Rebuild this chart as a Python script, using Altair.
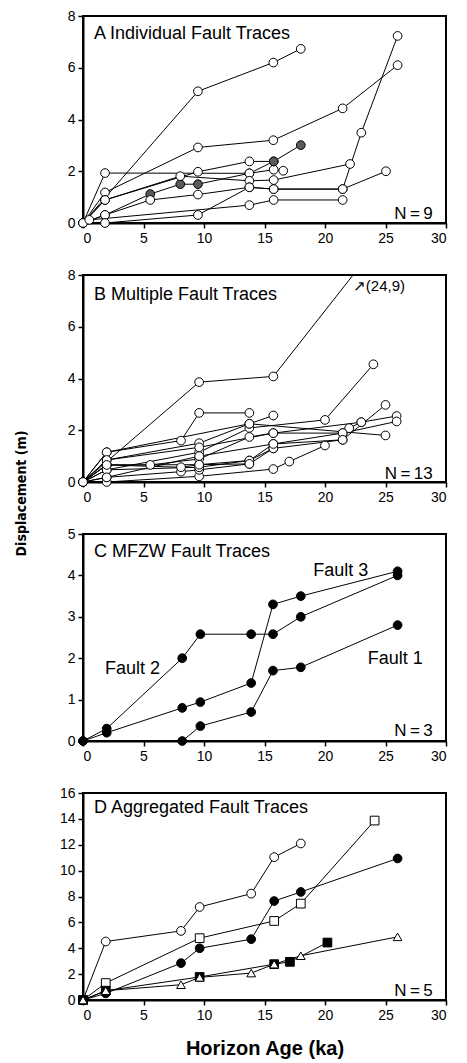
import altair as alt
import pandas as pd

# ---------------- Panel A: Individual fault traces ----------------
A_series = {
    "A1": ([0, 9.5, 15.73, 18.0], [0, 5.09, 6.2, 6.73]),
    "A2": ([0, 1.82, 9.5, 15.73, 21.46, 26.0], [0, 1.18, 2.92, 3.2, 4.43, 6.1]),
    "A3": ([0, 1.82, 13.75, 15.76, 16.55], [0, 1.93, 1.92, 2.06, 2.02]),
    "A4": ([0, 1.82, 9.5, 13.75, 15.76], [0, 0.89, 1.98, 2.38, 2.38]),
    "A5": ([0, 1.82, 5.56, 8.04, 9.5, 13.75, 15.76, 18.0], [0, 0.31, 1.12, 1.5, 1.5, 1.92, 2.38, 3.01]),
    "A6": ([0, 1.82, 8.04, 13.75, 15.76, 22.07], [0, 0.89, 1.81, 1.63, 1.66, 2.28]),
    "A7": ([0, 1.82, 5.56, 9.5, 13.75, 15.76, 21.46, 23.0, 26.0], [0, 0.31, 0.89, 1.1, 1.38, 1.31, 1.31, 3.49, 7.23]),
    "A8": ([0, 1.82, 9.5, 13.75, 15.76, 21.46, 25.04], [0, 0.0, 0.31, 1.38, 1.31, 1.31, 2.0]),
    "A9": ([0, 0.52, 13.75, 15.76, 21.46], [0, 0.12, 0.69, 0.89, 0.89]),
}
A_gray = {"A5": [2, 3, 4, 6, 7]}

# ---------------- Panel B: Multiple fault traces ----------------
B_series = {
    "B1": ([0, 9.6, 15.73, 24.0], [0, 3.86, 4.08, 9.0]),
    "B2": ([0, 1.96, 8.1, 9.6, 13.75], [0, 1.15, 1.6, 2.67, 2.67]),
    "B3": ([0, 1.96, 9.6, 13.75, 20.0, 24.0], [0, 0.47, 1.15, 2.09, 2.4, 4.55]),
    "B4": ([0, 1.96, 9.6, 13.75, 15.73], [0, 0.85, 1.5, 2.25, 2.57]),
    "B5": ([0, 1.96, 13.75, 25.0], [0, 1.15, 2.25, 1.8]),
    "B6": ([0, 1.96, 5.56, 9.6, 13.75, 15.73, 21.46, 22.0, 23.0, 25.92], [0, 0.66, 0.66, 0.89, 1.74, 1.89, 1.89, 2.08, 2.31, 2.55]),
    "B7": ([0, 1.96, 9.6, 15.73, 17.05, 20.0], [0, 0.0, 0.22, 0.5, 0.79, 1.41]),
    "B8": ([0, 1.96, 8.1, 9.6, 13.75, 15.73, 21.46, 25.0], [0, 0.18, 0.4, 0.47, 0.7, 1.3, 1.63, 2.98]),
    "B9": ([0, 1.96, 8.1, 9.6, 13.75, 15.73, 21.46, 25.92], [0, 0.66, 0.57, 0.67, 0.83, 1.47, 1.89, 2.34]),
    "B10": ([0, 1.96, 9.6, 15.73, 23.0], [0, 0.85, 1.34, 1.89, 2.31]),
    "B11": ([0, 1.96, 9.6, 13.75, 15.73], [0, 0.47, 0.57, 0.83, 1.3]),
    "B12": ([0, 1.96, 9.6, 15.73, 21.46], [0, 0.18, 1.0, 1.47, 1.63]),
    "B13": ([0, 1.96, 9.6, 13.75], [0, 0.66, 0.67, 0.7]),
}

# ---------------- Panel C: MFZW fault traces ----------------
C_series = {
    "Fault 2": ([0, 1.96, 8.2, 9.7, 13.9, 15.7, 18.0, 26.0], [0, 0.3, 2.0, 2.58, 2.58, 2.58, 3.0, 4.0]),
    "Fault 3": ([0, 1.96, 8.2, 9.7, 13.9, 15.7, 18.0, 26.0], [0, 0.2, 0.8, 0.94, 1.4, 3.3, 3.5, 4.1]),
    "Fault 1": ([8.2, 9.7, 13.9, 15.7, 18.0, 26.0], [0, 0.36, 0.7, 1.7, 1.78, 2.8]),
}

# ---------------- Panel D: Aggregated fault traces ----------------
D_series = {
    "open circle": ([0, 1.88, 8.1, 9.64, 13.9, 15.8, 18.0], [0, 4.52, 5.34, 7.19, 8.22, 11.04, 12.1]),
    "open square": ([0, 1.88, 9.64, 15.8, 18.0, 24.1], [0, 1.31, 4.78, 6.11, 7.45, 13.87]),
    "filled circle": ([0, 1.88, 8.1, 9.64, 13.9, 15.8, 18.0, 26.0], [0, 0.51, 2.85, 4.0, 4.7, 7.65, 8.35, 10.94]),
    "filled square": ([0, 1.88, 9.64, 15.8, 17.1, 20.2], [0, 0.72, 1.78, 2.77, 2.95, 4.44]),
    "open triangle": ([0, 1.88, 8.1, 9.64, 13.9, 15.8, 18.0, 26.0], [0, 0.72, 1.18, 1.75, 2.08, 2.77, 3.42, 4.88]),
}
D_style = {
    "open circle": ("circle", "white"),
    "open square": ("square", "white"),
    "filled circle": ("circle", "black"),
    "filled square": ("square", "black"),
    "open triangle": ("triangle-up", "white"),
}

# annotations
titles = ["A Individual Fault Traces", "B Multiple Fault Traces", "C MFZW Fault Traces", "D Aggregated Fault Traces"]
title_y = [7.1, 7.03, 4.44, 14.44]
n_labels = ["N\u2009=\u20099", "N\u2009=\u200913", "N\u2009=\u20093", "N\u2009=\u20095"]
n_y = [0.15, 0.12, 0.12, 0.33]
fault_labels = ["Fault 3", "Fault 2", "Fault 1"]
fault_x = [21.3, 4.1, 25.8]
fault_y = [4.1, 1.73, 1.97]

FONT = "Liberation Sans"


def build_df(series, style_fn):
    rows = []
    for name, (xs, ys) in series.items():
        for i, (xv, yv) in enumerate(zip(xs, ys)):
            shape, fill = style_fn(name, i)
            rows.append(dict(series=name, order=i, x=xv, y=yv, shape=shape, fill=fill))
    return pd.DataFrame(rows)


dfA = build_df(A_series, lambda n, i: ("circle", "#5a5a5a" if i in A_gray.get(n, []) else "white"))
dfB = build_df(B_series, lambda n, i: ("circle", "white"))
dfC = build_df(C_series, lambda n, i: ("circle", "black"))
dfD = build_df(D_series, lambda n, i: D_style[n])


def panel(df, ymax, ystep, idx, xtitle=None, clip_lines=False, extra=None):
    xenc = alt.X("x:Q", scale=alt.Scale(domain=[0, 30], nice=False),
                 axis=alt.Axis(values=list(range(0, 31, 5)), title=xtitle))
    yenc = alt.Y("y:Q", scale=alt.Scale(domain=[0, ymax], nice=False),
                 axis=alt.Axis(values=list(range(0, ymax + 1, ystep)), title=None, labelOverlap=False))
    lines = alt.Chart(df).mark_line(color="black", strokeWidth=1, clip=clip_lines).encode(
        x=xenc, y=yenc, detail="series:N", order="order:Q")
    pts = alt.Chart(df[df["y"] <= ymax]).mark_point(filled=True, size=76, stroke="black", strokeWidth=1, opacity=1).encode(
        x=xenc, y=yenc,
        fill=alt.Fill("fill:N", scale=None),
        shape=alt.Shape("shape:N", scale=None))
    tdf = pd.DataFrame({"x": [0.9], "y": [title_y[idx]], "t": [titles[idx]]})
    ttl = alt.Chart(tdf).mark_text(align="left", baseline="alphabetic", font=FONT, fontSize=18, color="black").encode(
        x=xenc, y=yenc, text="t:N")
    ndf = pd.DataFrame({"x": [28.9], "y": [n_y[idx]], "t": [n_labels[idx]]})
    nt = alt.Chart(ndf).mark_text(align="right", baseline="alphabetic", font=FONT, fontSize=17, color="black").encode(
        x=xenc, y=yenc, text="t:N")
    layers = [lines, pts, ttl, nt]
    if extra is not None:
        layers += [e.encode(x=xenc, y=yenc) for e in extra]
    return alt.layer(*layers).properties(width=363, height=207)


# arrow label in panel B
arr_df = pd.DataFrame({"x": [22.3], "y": [7.4], "t": ["\u2197(24,9)"]})
arrow = alt.Chart(arr_df).mark_text(align="left", baseline="alphabetic", font=FONT, fontSize=15, color="black").encode(
    text="t:N")

# fault labels in panel C
fl_df = pd.DataFrame({"x": fault_x, "y": fault_y, "t": fault_labels})
flt = alt.Chart(fl_df).mark_text(align="center", baseline="middle", font=FONT, fontSize=18, color="black").encode(
    text="t:N")

pA = panel(dfA, 8, 2, 0)
pB = panel(dfB, 8, 2, 1, clip_lines=True, extra=[arrow])
pC = panel(dfC, 5, 1, 2, extra=[flt])
pD = panel(dfD, 16, 2, 3, xtitle="Horizon Age (ka)")

chart = alt.vconcat(pA, pB, pC, pD, spacing=21).properties(
    padding={"left": 7, "top": 0, "right": 5, "bottom": 0},
    title=alt.TitleParams("Displacement (m)", orient="left", anchor="middle", dx=40,
                          font="DejaVu Sans Condensed", fontSize=14, fontWeight="bold", color="black", offset=29)
).configure_view(
    stroke="black", strokeWidth=2
).configure_axis(
    grid=False, domainColor="black", domainWidth=2, tickColor="black", tickWidth=1.5, tickSize=5,
    labelFont=FONT, labelFontSize=14, labelColor="black", labelPadding=3,
    titleFont=FONT, titleFontSize=20, titleFontWeight="bold", titleColor="black", titlePadding=16
)

chart.save("out.html", embed_options={"renderer": "svg", "actions": False})
